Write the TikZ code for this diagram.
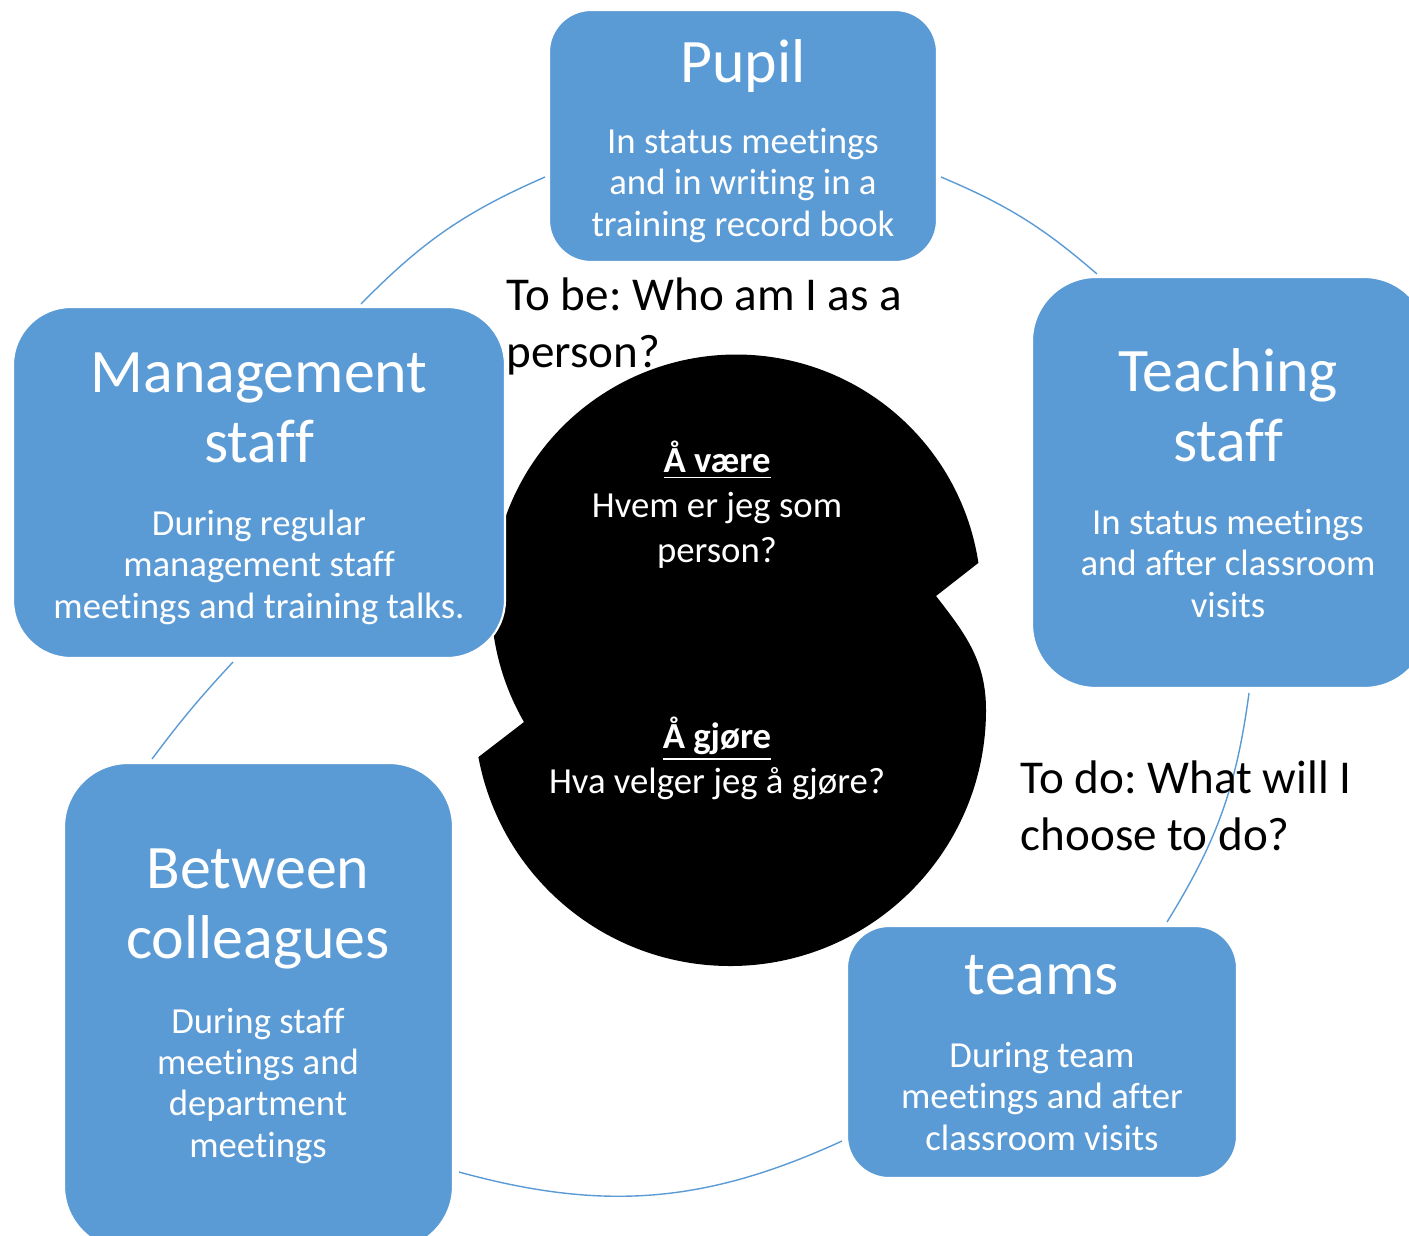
\documentclass[tikz,border=0pt]{standalone}
\usepackage{fontspec}
\setmainfont{Carlito}[Ligatures=CommonOff]
\usepackage{tikz}

\definecolor{cycleblue}{HTML}{5B9BD5}

\tikzset{
  stage/.style={fill=cycleblue, draw=white, line width=0.6pt, inner sep=0pt},
  heading/.style={text=white, align=center, inner sep=0pt, font=\fontsize{17.6}{19.9}\selectfont},
  detail/.style={text=white, align=center, inner sep=0pt, font=\fontsize{10.45}{11.7}\selectfont},
  core/.style={text=white, align=center, inner sep=0pt, font=\fontsize{10.45}{12.8}\selectfont},
  question/.style={align=left, inner sep=0pt, font=\fontsize{13.4}{16.2}\selectfont},
  link/.style={draw=cycleblue, line width=0.4pt},
}

\frenchspacing

\begin{document}
\begin{tikzpicture}
  \useasboundingbox (0,0) rectangle (14.09,-12.35);

  % ring pieces between the stages
  \coordinate (mgmt-out) at (3.61,-3.04);
  \coordinate (pupil-in) at (5.45,-1.77);
  \coordinate (pupil-out) at (9.41,-1.77);
  \coordinate (teach-in) at (10.97,-2.74);
  \coordinate (teach-out) at (12.49,-6.93);
  \coordinate (teams-in) at (11.67,-9.22);
  \coordinate (teams-out) at (8.42,-11.41);
  \coordinate (coll-in) at (4.59,-11.72);
  \coordinate (coll-out) at (1.52,-7.59);
  \coordinate (mgmt-in) at (2.33,-6.62);
  \draw[link] (mgmt-out) to[bend left=11] (pupil-in);
  \draw[link] (pupil-out) to[bend left=9] (teach-in);
  \draw[link] (teach-out) to[bend left=12] (teams-in);
  \draw[link] (teams-out) to[bend left=20] (coll-in);
  \draw[link] (coll-out) to[bend left=3] (mgmt-in);

  % two interlocking discs in the middle
  \fill[black] (5.24,-7.22) arc[start angle=210, end angle=8.6, radius=2.45]
    -- (9.36,-5.96) to[out=-52, in=90] (9.86,-7.10)
    arc[start angle=0, end angle=-169.4, radius=2.56] -- cycle;
  \node[core, anchor=base] (vaere) at (7.17,-5.62)
    {\textbf{\underline{Å være}}\\Hvem er jeg som\\person?};
  \node[core, anchor=base] (gjore) at (7.17,-7.93)
    {\textbf{\underline{Å gjøre}}\\Hva velger jeg å gjøre?};

  % stages
  \node[stage, minimum width=3.88cm, minimum height=2.52cm, rounded corners=0.42cm] (pupil) at (7.43,-1.36) {};
  \node[heading, anchor=base] (pupil-h) at (7.43,-0.82) {Pupil};
  \node[detail, anchor=base] (pupil-d) at (7.43,-2.36)
    {In status meetings\\and in writing in a\\training record book};

  \node[stage, minimum width=3.96cm, minimum height=4.11cm, rounded corners=0.64cm] (teaching) at (12.30,-4.825) {};
  \node[heading, anchor=base] (teaching-h) at (12.28,-4.61) {Teaching\\staff};
  \node[detail, anchor=base] (teaching-d) at (12.28,-6.17)
    {In status meetings\\and after classroom\\visits};

  \node[stage, minimum width=4.92cm, minimum height=3.51cm, rounded corners=0.58cm] (management) at (2.59,-4.825) {};
  \node[heading, anchor=base] (management-h) at (2.59,-4.62) {Management\\staff};
  \node[detail, anchor=base] (management-d) at (2.59,-6.18)
    {During regular\\management staff\\meetings and training talks.};

  \node[stage, minimum width=3.89cm, minimum height=4.87cm, rounded corners=0.64cm] (colleagues) at (2.585,-10.065) {};
  \node[heading, anchor=base] (colleagues-h) at (2.58,-9.58) {Between\\colleagues};
  \node[detail, anchor=base] (colleagues-d) at (2.58,-11.57)
    {During staff\\meetings and\\department\\meetings};

  \node[stage, minimum width=3.90cm, minimum height=2.52cm, rounded corners=0.42cm] (teams) at (10.42,-10.52) {};
  \node[heading, anchor=base] (teams-h) at (10.42,-9.94) {teams};
  \node[detail, anchor=base] (teams-d) at (10.42,-11.50)
    {During team\\meetings and after\\classroom visits};

  % the two questions
  \node[question, anchor=base west] (tobe) at (5.06,-3.67) {To be: Who am I as a\\person?};
  \node[question, anchor=base west] (todo) at (10.20,-8.50) {To do: What will I\\choose to do?};
\end{tikzpicture}
\end{document}
